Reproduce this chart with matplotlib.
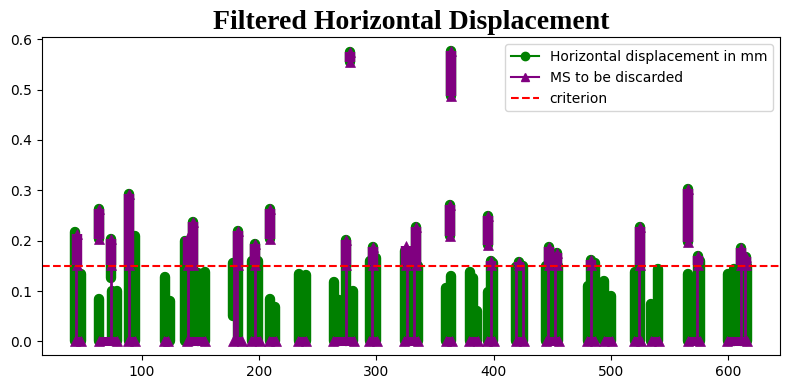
import matplotlib
matplotlib.use("Agg")
import matplotlib.pyplot as plt
from matplotlib.lines import Line2D

# ---- data ----
criterion = 0.15

# green "Horizontal displacement in mm" columns: x, low, high
green_x = [43.6, 48.3, 63.5, 64.1, 73.9, 74.8, 79.0, 89.6, 94.5, 119.7, 124.3,
           137.2, 144.0, 148.5, 154.0, 178.0, 182.2, 193.9, 197.0, 199.5,
           209.5, 209.2, 213.9, 233.8, 239.8, 263.9, 268.5, 274.3, 279.9, 277.8,
           294.3, 297.3, 299.8, 324.1, 329.0, 333.5, 335.7, 363.9, 362.6, 359.4,
           363.9, 379.5, 382.5, 385.5, 395.2, 395.1, 397.8, 399.6, 419.3, 422.0,
           425.2, 444.8, 447.0, 453.8, 455.0, 480.3, 483.0, 486.2, 494.4, 500.0,
           520.0, 524.7, 534.3, 540.0, 565.6, 565.5, 574.4, 575.7, 599.5, 605.0,
           611.0, 614.7, 615.4]
green_lo = [0.0, 0.0, 0.203, 0.0, 0.125, 0.0, 0.0, 0.0, 0.0, 0.0, 0.0,
            0.0, 0.0, 0.0, 0.0, 0.05, 0.0, 0.0, 0.0, 0.0,
            0.204, 0.0, 0.0, 0.0, 0.0, 0.0, 0.0, 0.0, 0.0, 0.555,
            0.0, 0.0, 0.0, 0.0, 0.0, 0.0, 0.0, 0.487, 0.21, 0.0,
            0.0, 0.0, 0.0, 0.0, 0.191, 0.0, 0.0, 0.0, 0.0, 0.0,
            0.0, 0.0, 0.0, 0.0, 0.0, 0.0, 0.0, 0.0, 0.0, 0.0,
            0.0, 0.0, 0.0, 0.0, 0.197, 0.0, 0.0, 0.0, 0.0, 0.0,
            0.0, 0.0, 0.0]
green_hi = [0.217, 0.133, 0.263, 0.085, 0.204, 0.10, 0.10, 0.293, 0.209, 0.127, 0.08,
            0.20, 0.237, 0.135, 0.137, 0.156, 0.22, 0.16, 0.194, 0.16,
            0.263, 0.084, 0.068, 0.133, 0.132, 0.117, 0.083, 0.202, 0.10, 0.575,
            0.16, 0.188, 0.165, 0.18, 0.17, 0.228, 0.15, 0.577, 0.27, 0.107,
            0.13, 0.137, 0.125, 0.06, 0.248, 0.098, 0.16, 0.155, 0.147, 0.158,
            0.15, 0.15, 0.188, 0.175, 0.15, 0.11, 0.162, 0.155, 0.12, 0.09,
            0.137, 0.227, 0.074, 0.143, 0.302, 0.133, 0.17, 0.16, 0.133, 0.143,
            0.186, 0.168, 0.15]

# purple "MS to be discarded" groups above the criterion: x, low, high
ms_x = [44.8, 73.9, 89.6, 139.4, 144.0, 182.0, 197.0, 274.3, 297.3, 325.0, 333.5,
        397.8, 422.0, 447.0, 453.8, 483.0, 524.7, 574.4, 611.0, 614.7,
        63.5, 209.5, 277.8, 362.6, 363.9, 395.2, 565.6]
ms_lo = [0.151, 0.151, 0.151, 0.151, 0.151, 0.151, 0.151, 0.151, 0.151, 0.151, 0.151,
         0.151, 0.151, 0.151, 0.151, 0.151, 0.151, 0.151, 0.151, 0.151,
         0.203, 0.204, 0.555, 0.21, 0.487, 0.191, 0.197]
ms_hi = [0.214, 0.204, 0.293, 0.207, 0.237, 0.22, 0.194, 0.202, 0.188, 0.19, 0.228,
         0.16, 0.158, 0.188, 0.175, 0.162, 0.227, 0.17, 0.186, 0.168,
         0.263, 0.263, 0.575, 0.27, 0.577, 0.248, 0.302]

# purple jumps from zero up to the discarded values
jump_x = [44.0, 73.6, 89.5, 139.7, 178.6, 181.4, 197.0, 274.6, 296.0, 326.2, 332.0,
          398.0, 419.4, 425.0, 446.3, 452.0, 482.7, 523.9, 573.3, 610.4, 613.9]
jump_top = [0.151] * len(jump_x)

# purple runs at zero (kept samples): x start, x end
zero_x0 = [43.6, 64.0, 88.8, 119.4, 138.6, 177.9, 193.5, 208.5, 233.6, 263.4, 293.6,
           323.9, 359.0, 379.0, 394.5, 418.8, 444.4, 479.8, 494.0, 519.6, 534.0,
           565.3, 599.0]
zero_x1 = [48.7, 79.0, 94.3, 122.8, 154.3, 185.2, 200.8, 214.5, 240.4, 280.8, 300.9,
           335.8, 364.7, 386.3, 400.5, 425.6, 455.5, 486.6, 500.5, 525.3, 540.9,
           575.9, 616.0]

# ---- figure ----
fig = plt.figure(figsize=(7.9, 3.9), dpi=100)
ax = fig.add_axes([0.053, 0.0897, 0.934, 0.815])

for x, lo, hi in zip(green_x, green_lo, green_hi):
    ax.plot([x, x], [lo, hi], color="green", lw=7.5, solid_capstyle="round")

for x, top in zip(jump_x, jump_top):
    ax.plot([x, x], [0, top], color="purple", lw=2)

for x, lo, hi in zip(ms_x, ms_lo, ms_hi):
    ax.plot([x, x], [lo, hi], color="purple", lw=7.5, solid_capstyle="butt",
            marker="^", ms=7.5, mew=0.5)

for x0, x1 in zip(zero_x0, zero_x1):
    ax.plot([x0, x1], [0, 0], color="purple", lw=6.5, solid_capstyle="butt",
            marker="^", ms=7, mew=0.5)

ax.axhline(criterion, color="red", ls="--", lw=1.5)

ax.set_xlim(15.1, 643.7)
ax.set_ylim(-0.027, 0.604)

handles = [
    Line2D([], [], color="green", marker="o", label="Horizontal displacement in mm"),
    Line2D([], [], color="purple", marker="^", label="MS to be discarded"),
    Line2D([], [], color="red", ls="--", label="criterion"),
]
ax.legend(handles=handles, loc="upper right", fontsize=10)

ax.set_title("Filtered Horizontal Displacement",
             fontdict={"family": "Liberation Serif", "weight": "bold", "size": 20})

fig.savefig("out.png", dpi=100)
